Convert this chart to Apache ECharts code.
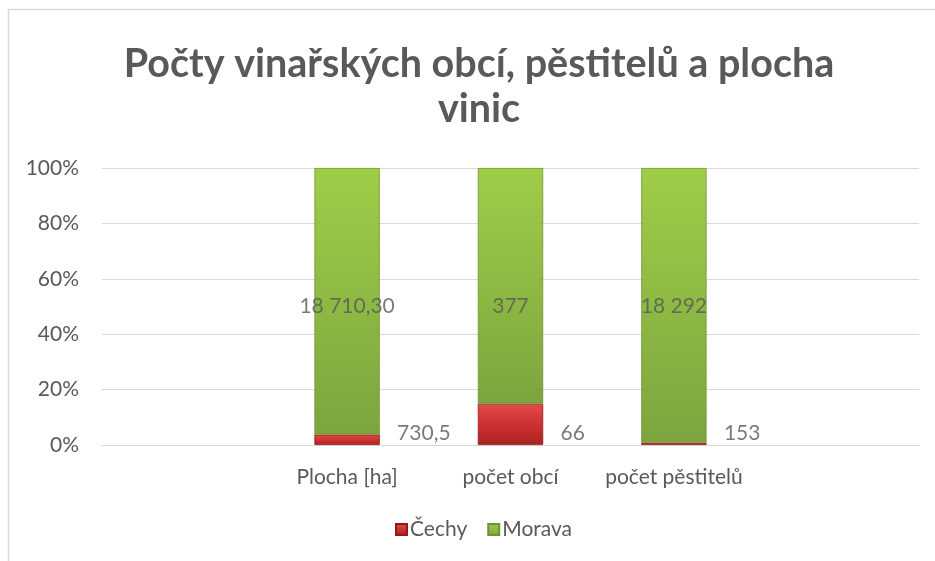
<!DOCTYPE html>
<html>
<head>
<meta charset="utf-8">
<script src="https://cdn.jsdelivr.net/npm/echarts@6/dist/echarts.min.js"></script>
<style>
html,body{margin:0;padding:0;background:#fff;}
#chart{width:935px;height:561px;}
</style>
</head>
<body>
<div id="chart"></div>
<script>
const titleText = 'Počty vinařských obcí, pěstitelů a plocha\nvinic';
const categories = ['Plocha [ha]', 'počet obcí', 'počet pěstitelů'];
const seriesNames = ['Čechy', 'Morava'];
const cechy = [730.5, 66, 153];
const morava = [18710.30, 377, 18292];
const cechyLabels = ['730,5', '66', '153'];
const moravaLabels = ['18 710,30', '377', '18 292'];
const yTicks = [0, 20, 40, 60, 80, 100];

// 100 % stacked shares computed from the raw values
const totals = cechy.map((v, i) => v + morava[i]);
const cechyPct = cechy.map((v, i) => v / totals[i] * 100);
const moravaPct = morava.map((v, i) => v / totals[i] * 100);

// pad with an empty slot on each side (as in the original layout)
const pad = arr => [null, ...arr, null];
const axisCats = ['', ...categories, ''];

const FONT = 'Lato, "Open Sans", sans-serif';
const TXT = '#595959';
const FS = 21;

const greenGrad = new echarts.graphic.LinearGradient(0, 0, 0, 1, [
  {offset: 0, color: '#9acb3e'},
  {offset: 1, color: '#76a035'}
]);
const redGrad = new echarts.graphic.LinearGradient(0, 0, 0, 1, [
  {offset: 0, color: '#e24646'},
  {offset: 0.5, color: '#cc2a2a'},
  {offset: 1, color: '#a81c1c'}
]);

const chart = echarts.init(document.getElementById('chart'), null, {renderer: 'canvas'});
chart.setOption({
  backgroundColor: '#ffffff',
  animation: false,
  title: {
    text: titleText,
    left: 474,
    textAlign: 'center',
    top: 37,
    textStyle: {fontFamily: FONT, fontWeight: 'bold', fontSize: 39.5, color: TXT, lineHeight: 45}
  },
  graphic: [{
    type: 'rect',
    shape: {x: 8.5, y: 9.5, width: 1000, height: 700},
    style: {fill: 'none', stroke: '#d9d9d9', lineWidth: 1.5},
    silent: true
  }],
  legend: {
    bottom: 16,
    left: 390,
    itemWidth: 11,
    itemHeight: 11,
    itemGap: 20,
    icon: 'rect',
    textStyle: {fontFamily: FONT, fontSize: FS, color: TXT, padding: [0, 0, 0, -2]},
    data: seriesNames
  },
  grid: {left: 102, right: 16, top: 168, bottom: 116, containLabel: false},
  xAxis: {
    type: 'category',
    data: axisCats,
    axisLine: {show: true, lineStyle: {color: '#d9d9d9', width: 1}},
    axisTick: {show: false},
    axisLabel: {fontFamily: FONT, fontSize: FS, color: TXT, margin: 22, interval: 0}
  },
  yAxis: {
    type: 'value',
    min: 0,
    max: 100,
    interval: 20,
    axisLine: {show: false},
    axisTick: {show: false},
    splitLine: {lineStyle: {color: '#d9d9d9', width: 1}},
    axisLabel: {fontFamily: FONT, fontSize: FS, color: TXT, margin: 23,
      formatter: v => yTicks.includes(v) ? v + '%' : ''}
  },
  series: [
    {
      name: seriesNames[0],
      type: 'bar',
      stack: 'total',
      barWidth: '40%',
      data: pad(cechyPct),
      itemStyle: {color: redGrad, borderColor: '#8e1515', borderWidth: 0.8, opacity: 0.97}
    },
    {
      name: seriesNames[1],
      type: 'bar',
      stack: 'total',
      data: pad(moravaPct),
      itemStyle: {color: greenGrad, borderColor: '#6a8f2e', borderWidth: 0.8, opacity: 0.95}
    },
    {
      // Morava value labels, placed at mid-height of the axis
      type: 'scatter',
      symbolSize: 0,
      silent: true,
      z: 10,
      data: pad(moravaLabels.map(() => 50)),
      label: {
        show: true, position: 'inside',
        fontFamily: FONT, fontSize: FS, color: TXT,
        formatter: p => moravaLabels[p.dataIndex - 1]
      },
      tooltip: {show: false}
    },
    {
      // Čechy value labels, to the right of the bars near the base
      type: 'scatter',
      symbolSize: 0,
      silent: true,
      z: 10,
      data: pad(cechyLabels.map(() => 4.3)),
      label: {
        show: true, position: 'right', distance: 50,
        fontFamily: FONT, fontSize: FS, color: TXT,
        formatter: p => cechyLabels[p.dataIndex - 1]
      },
      tooltip: {show: false}
    }
  ]
});
</script>
</body>
</html>
